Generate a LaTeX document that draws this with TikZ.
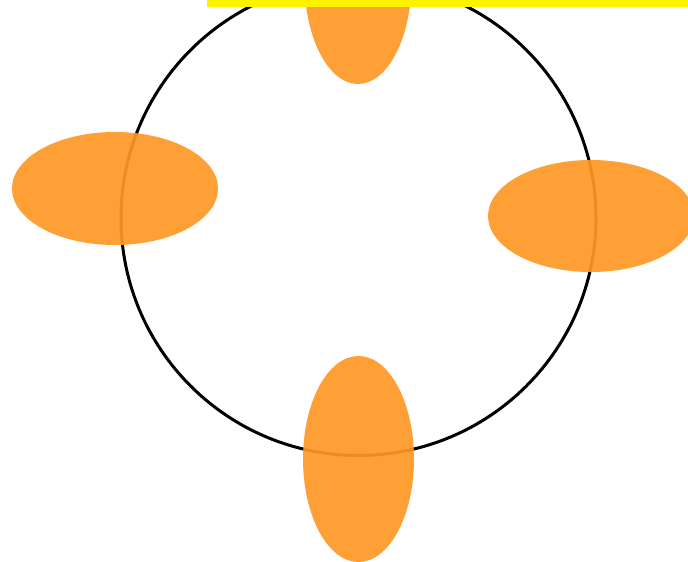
\documentclass[tikz,border=0pt]{standalone}
\usetikzlibrary{shapes.geometric}
\begin{document}
\begin{tikzpicture}[x=1pt,y=-1pt,
  blob/.style={fill={rgb,255:red,255;green,152;blue,38}, fill opacity=0.92, draw=none},
  ring/.style={draw=black, line width=3pt}]
\useasboundingbox (0,0) rectangle (688,562);
\begin{scope}
\clip (0,0) rectangle (688,562);
\fill[white] (0,0) rectangle (688,562);
\node[ring, circle, minimum size=475pt, inner sep=0pt] (c) at (358.5,218) {};
\node[blob, ellipse, minimum width=107pt, minimum height=206pt, inner sep=0pt] (t) at (358,-19) {};
\node[blob, ellipse, minimum width=111pt, minimum height=206pt, inner sep=0pt] (b) at (358.5,459) {};
\node[blob, ellipse, minimum width=206pt, minimum height=113pt, inner sep=0pt] (l) at (115,188.5) {};
\node[blob, ellipse, minimum width=206pt, minimum height=112pt, inner sep=0pt] (r) at (591,216) {};
\fill[yellow] (207,0) rectangle (688,7);
\end{scope}
\end{tikzpicture}
\end{document}
